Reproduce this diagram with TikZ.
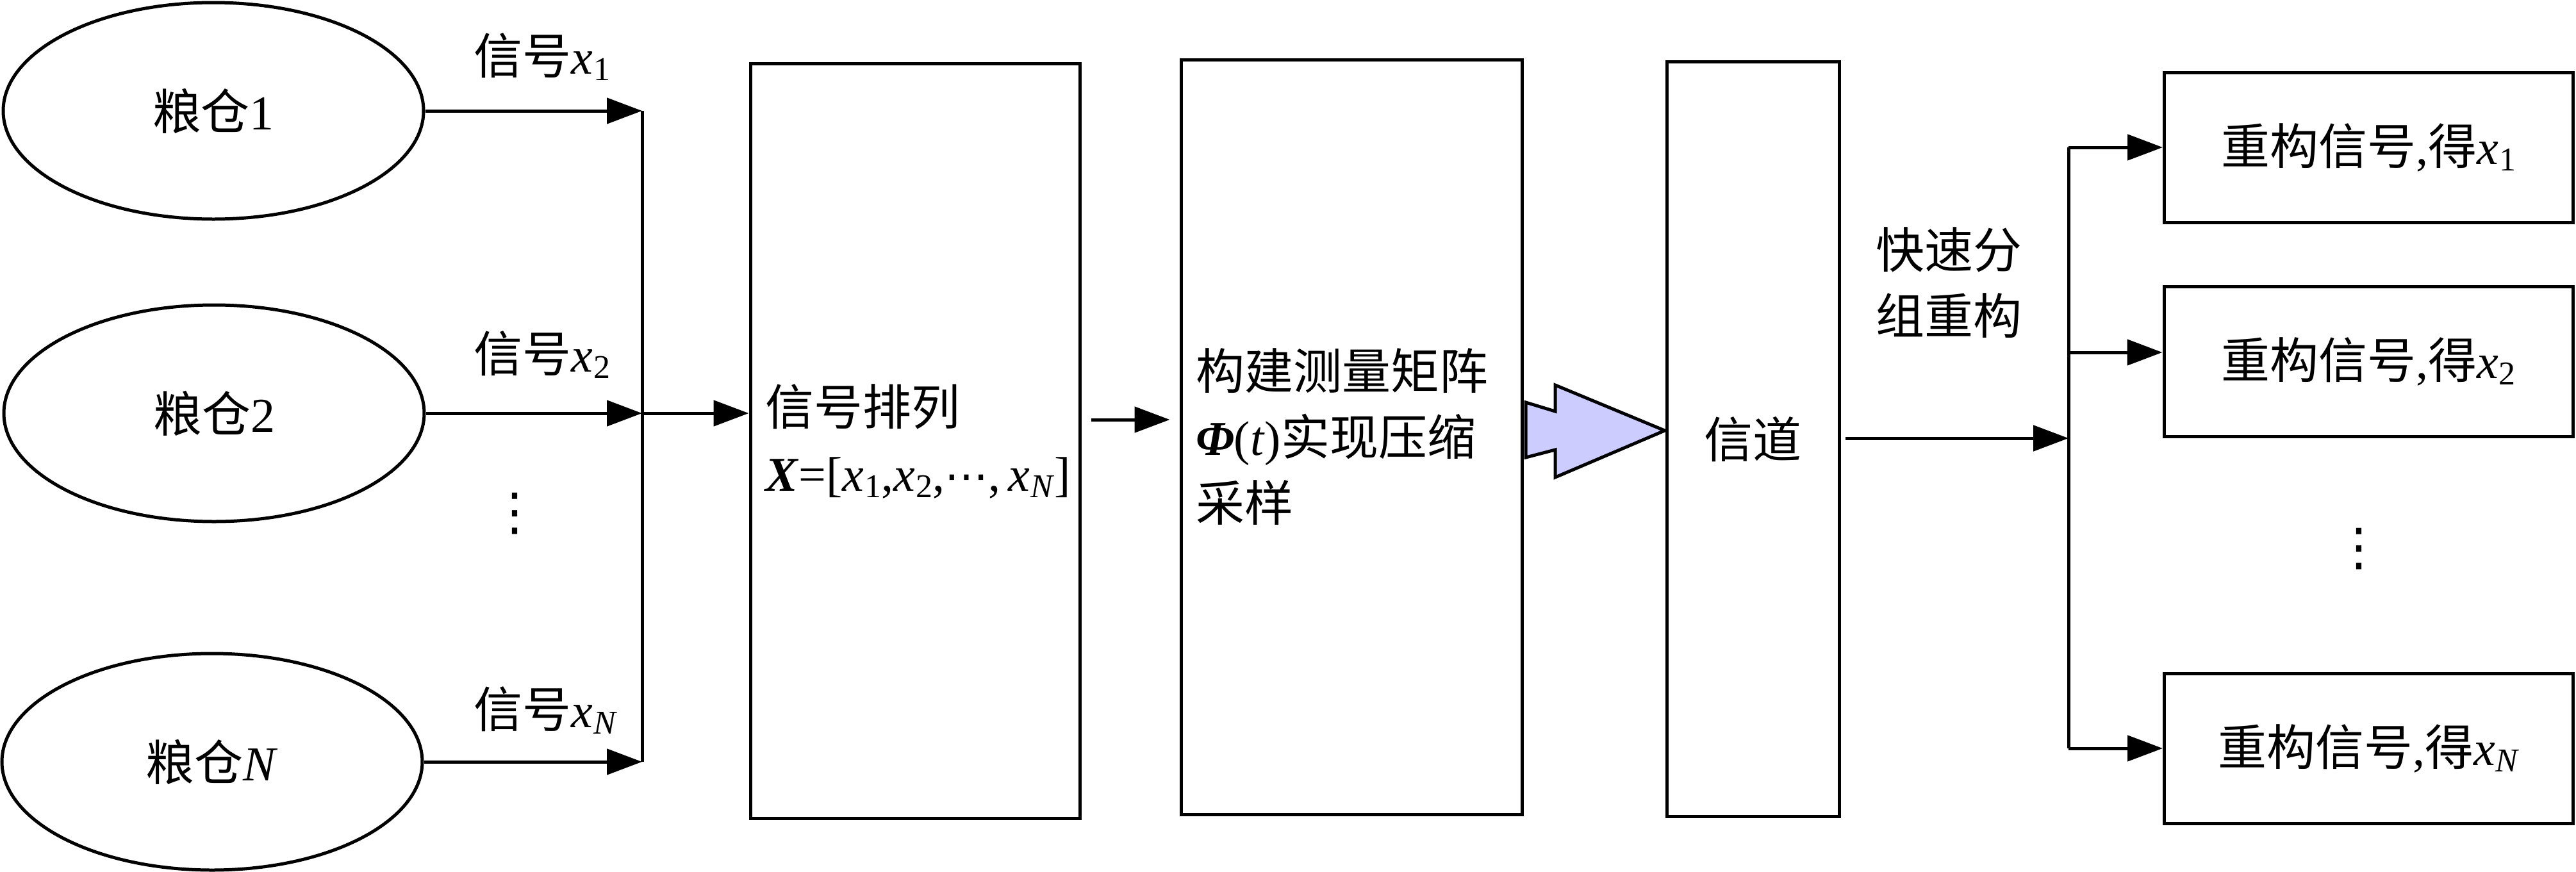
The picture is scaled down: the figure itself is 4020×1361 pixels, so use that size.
\documentclass[tikz,border=0pt]{standalone}
\usepackage{fontspec}
\setmainfont{Liberation Serif}
\newfontfamily\cjk{Noto Sans CJK SC}
\newfontfamily\djv{DejaVu Sans}
\usetikzlibrary{shapes.geometric,arrows.meta}
\definecolor{arrowfill}{RGB}{204,204,255}
\newcommand\zh[1]{{\cjk #1}}
\newcommand\xsub[1]{\textit{x}\kern0.3pt\raisebox{-2.5pt}{\fontsize{13}{13}\selectfont #1}}
\newcommand\hdots{{\djv\fontsize{17}{17}\selectfont ⋯}}
\newcommand\vdotsym{{\djv\fontsize{20}{20}\selectfont ⋮}}
\begin{document}
\begin{tikzpicture}[x=0.25pt,y=-0.25pt,
  line width=1.25pt,
  every node/.style={font=\fontsize{19}{25.75}\selectfont, inner sep=0pt},
  bin/.style={ellipse, draw, minimum width=164pt, minimum height=84.5pt},
  tallbox/.style={rectangle, draw, minimum height=294.5pt},
  outbox/.style={rectangle, draw, minimum width=159.5pt, minimum height=58.5pt},
  arr/.style={-{Triangle[length=13.75pt,width=10pt]}},
  lbl/.style={anchor=base west},
  bigarrow/.style={draw, fill=arrowfill, line join=miter}]
\useasboundingbox (0,0) rectangle (4020,1361);

% bins
\node[bin] (e1) at (333,173) {\zh{粮仓}1};
\node[bin] (e2) at (334,645) {\zh{粮仓}2};
\node[bin] (eN) at (331,1189) {\zh{粮仓}\textit{N}};

% signal labels
\node[lbl] (l1) at (737,115) {\zh{信号}\xsub{1}};
\node[lbl] (l2) at (737,580) {\zh{信号}\xsub{2}};
\node[lbl] (lN) at (737,1135) {\zh{信号}\xsub{\textit{N}}};
\node (d1) at (803,802) {\vdotsym};

% main blocks
\node[tallbox, minimum width=128.5pt, text width=117pt, align=left, inner xsep=5.75pt] (b1) at (1428,688.5)
  {\zh{信号排列}\\\mbox{\textbf{\textit{X}}=[\xsub{1},\xsub{2},\hdots,\kern3pt\xsub{\textit{N}}]}};
\node[tallbox, minimum width=133pt, text width=121.5pt, align=left, inner xsep=5.75pt] (b2) at (2109,682)
  {\zh{构建测量矩阵}\\\textbf{\textit{Φ}}(\textit{t})\zh{实现压缩}\\\zh{采样}};
\node[tallbox, minimum width=67.25pt] (ch) at (2735.5,685.5) {\zh{信道}};

% big arrow
\draw[bigarrow] (2381,628) -- (2427,642) -- (2427,601) -- (2598,672) -- (2427,745) -- (2427,702) -- (2381,714) -- cycle;

% outputs
\node[outbox] (r1) at (3696.5,230) {\zh{重构信号},\zh{得}\xsub{1}};
\node[outbox] (r2) at (3696,564) {\zh{重构信号},\zh{得}\xsub{2}};
\node[outbox] (rN) at (3696.5,1168) {\zh{重构信号},\zh{得}\xsub{\textit{N}}};
\node (d2) at (3681,857) {\vdotsym};
\node[align=center] (fast) at (3041,441) {\zh{快速分}\\\zh{组重构}};

% left bus
\coordinate (bus1) at (1002,173);
\coordinate (bus2) at (1002,645);
\coordinate (busN) at (1002,1189);
\draw (bus1) -- (busN);
\draw[arr] (e1.east) -- (bus1);
\draw[arr] (e2.east) -- (bus2);
\draw[arr] (eN.east) -- (busN);
\draw[arr] (bus2) -- (bus2 -| b1.west);
\coordinate (mid) at (1760,655);
\draw[arr, shorten <=3.75pt, shorten >=3.75pt] (b1.east |- mid) -- (b2.west |- mid);

% right bus
\coordinate (rb1) at (3228,230);
\coordinate (rb2) at (3228,550);
\coordinate (rbN) at (3228,1168);
\coordinate (rbin) at (3228,684);
\draw (rb1) -- (rbN);
\draw[arr, shorten <=1.75pt] (ch.east |- rbin) -- (rbin);
\draw[arr] (rb1) -- (r1.west);
\draw[arr] (rb2) -- (rb2 -| r2.west);
\draw[arr] (rbN) -- (rN.west);
\end{tikzpicture}
\end{document}
